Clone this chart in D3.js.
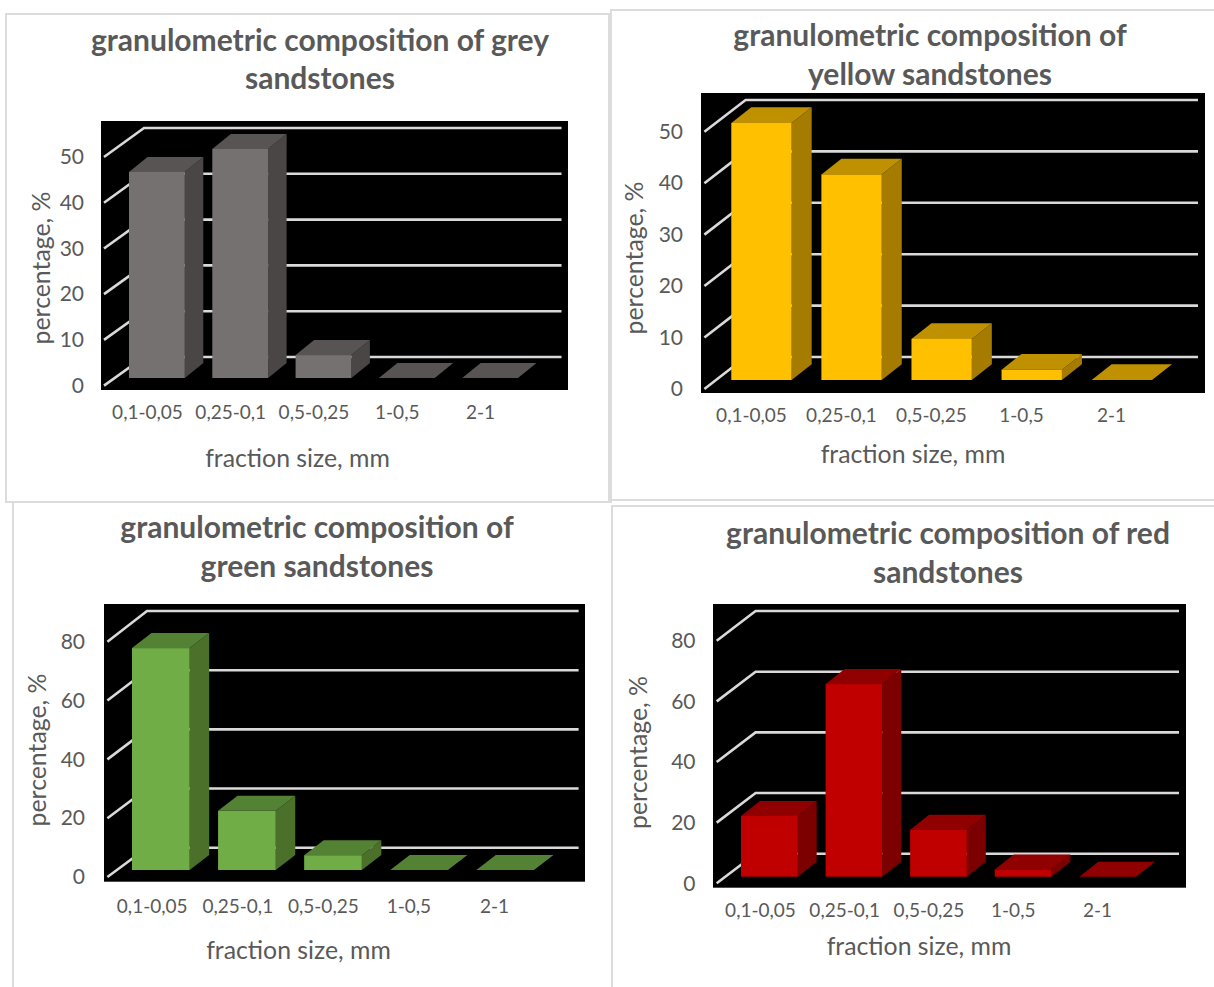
<!DOCTYPE html>
<html>
<head>
<meta charset="utf-8">
<script src="https://cdn.jsdelivr.net/npm/d3@7"></script>
<style>
  html, body { margin: 0; padding: 0; background: #fff; }
  svg { display: block; }
  text { font-family: Lato, sans-serif; fill: #595959; }
  .title { font-size: 30px; font-weight: 700; text-anchor: middle; }
  .axis-title { font-size: 24.8px; text-anchor: middle; }
  .y-axis text { font-size: 21px; }
  .x-axis text { font-size: 19px; }
</style>
</head>
<body>
<div id="chart"></div>
<script>
// values, one list per chart
var categories = ["0,1-0,05", "0,25-0,1", "0,5-0,25", "1-0,5", "2-1"];
var greyValues = [45, 50, 5, 0, 0];
var yellowValues = [50, 40, 8, 2, 0];
var greenValues = [75, 20, 5, 0, 0];
var redValues = [20, 63.5, 15.5, 2.4, 0];
var ticks50 = [0, 10, 20, 30, 40, 50];
var ticks80 = [0, 20, 40, 60, 80];

var yTitle = "percentage, %";
var xTitle = "fraction size, mm";

var svg = d3.select("#chart").append("svg")
    .attr("width", 1214)
    .attr("height", 987);

// panel frames first, they sit under everything
var frames = [
  "M6,14H609V502H6Z",
  "M1214,10H611V500H1214",
  "M13,987V502H612",
  "M612,987V506H1214"
];
svg.selectAll(".frame")
    .data(frames)
  .enter().append("path")
    .attr("class", "frame")
    .attr("d", function(d) { return d; })
    .attr("fill", "none")
    .attr("stroke", "#dcdcdc")
    .attr("stroke-width", 2);

drawPanel({
  title: ["granulometric composition of grey", "sandstones"],
  values: greyValues, ticks: ticks50,
  colors: { front: "#767171", top: "#595454", side: "#4a4646" },
  plot: [101, 121, 568, 390],
  back: [144, 561.5, 357, 128],
  front: [104, 385.6, 157],
  bars: [129, 518, 378], depth: [18.5, 15],
  tickX: 84,
  labels: [147, 480, 412.5],
  titleAt: [320, 40, 78],
  xTitleAt: [297.5, 458],
  yTitleAt: [41, 268]
});

drawPanel({
  title: ["granulometric composition of", "yellow sandstones"],
  values: yellowValues, ticks: ticks50,
  colors: { front: "#ffc000", top: "#bf9000", side: "#a67c00" },
  plot: [701, 93, 1205, 393],
  back: [745.6, 1198, 357, 100],
  front: [704.4, 389, 131.7],
  bars: [731.3, 1152, 380], depth: [20, 15.7],
  tickX: 683,
  labels: [751, 1111, 415.5],
  titleAt: [930, 35, 74],
  xTitleAt: [913, 454],
  yTitleAt: [634, 258]
});

drawPanel({
  title: ["granulometric composition of", "green sandstones"],
  values: greenValues, ticks: ticks80,
  colors: { front: "#70ad47", top: "#548235", side: "#4a7029" },
  plot: [104, 604, 585, 881.7],
  back: [147, 578.6, 847.7, 611],
  front: [107.4, 877, 641.7],
  bars: [132, 534, 870], depth: [19.5, 15],
  tickX: 85,
  labels: [151.7, 494, 906],
  titleAt: [317, 527, 566],
  xTitleAt: [298.5, 950],
  yTitleAt: [37, 750]
});

drawPanel({
  title: ["granulometric composition of red", "sandstones"],
  values: redValues, ticks: ticks80,
  colors: { front: "#c00000", top: "#900000", side: "#7c0000" },
  plot: [713, 604, 1186, 887.7],
  back: [755.6, 1179, 853.7, 611],
  front: [716.7, 883.3, 640.7],
  bars: [741, 1136, 876.7], depth: [19, 15],
  tickX: 695.5,
  labels: [760, 1097, 910.5],
  titleAt: [948, 533, 572.5],
  xTitleAt: [919, 946.5],
  yTitleAt: [638, 752.5]
});

function drawPanel(p) {
  var g = svg.append("g");
  var maxTick = p.ticks[p.ticks.length - 1];

  g.append("rect")
      .attr("x", p.plot[0])
      .attr("y", p.plot[1])
      .attr("width", p.plot[2] - p.plot[0])
      .attr("height", p.plot[3] - p.plot[1])
      .attr("fill", "#000");

  // value scales for the back wall and the front edge of the floor
  var yBack = d3.scaleLinear().domain([0, maxTick]).range([p.back[2], p.back[3]]);
  var yFront = d3.scaleLinear().domain([0, maxTick]).range([p.front[1], p.front[2]]);

  var x = d3.scaleBand()
      .domain(categories)
      .range([p.bars[0], p.bars[1]])
      .paddingInner(0.33);

  g.selectAll(".grid")
      .data(p.ticks)
    .enter().append("path")
      .attr("class", "grid")
      .attr("d", function(d) {
        return "M" + p.front[0] + "," + yFront(d) +
               "L" + p.back[0] + "," + yBack(d) +
               "H" + p.back[1];
      })
      .attr("fill", "none")
      .attr("stroke", "#d9d9d9")
      .attr("stroke-width", 2.6);

  var barHeight = function(d) { return yBack(0) - yBack(d); };
  var floor = p.bars[2], dx = p.depth[0], dy = p.depth[1];

  var bars = g.selectAll(".bar")
      .data(p.values.map(function(d, i) { return [categories[i], d]; }))
    .enter().append("g")
      .attr("class", "bar");

  // side face
  bars.append("path")
      .attr("fill", p.colors.side)
      .attr("d", function(d) {
        var r = x(d[0]) + x.bandwidth(), t = floor - barHeight(d[1]);
        return "M" + r + "," + t + "l" + dx + "," + (-dy) + "V" + (floor - dy) + "L" + r + "," + floor + "Z";
      });

  // top face
  bars.append("path")
      .attr("fill", p.colors.top)
      .attr("d", function(d) {
        var l = x(d[0]), t = floor - barHeight(d[1]);
        return "M" + l + "," + t + "l" + dx + "," + (-dy) + "h" + x.bandwidth() + "l" + (-dx) + "," + dy + "Z";
      });

  // front face
  bars.append("rect")
      .attr("fill", p.colors.front)
      .attr("x", function(d) { return x(d[0]); })
      .attr("width", x.bandwidth())
      .attr("y", function(d) { return floor - barHeight(d[1]); })
      .attr("height", function(d) { return barHeight(d[1]); });

  var yAxis = g.append("g")
      .attr("class", "y-axis")
      .attr("transform", "translate(" + p.tickX + ",0)")
      .call(d3.axisLeft(yFront).tickValues(p.ticks).tickSize(0).tickPadding(0));
  yAxis.select(".domain").remove();

  // the labels do not sit under the bars, so they get their own scale
  var xLabels = d3.scalePoint().domain(categories).range([p.labels[0], p.labels[1]]);
  var xAxis = g.append("g")
      .attr("class", "x-axis")
      .attr("transform", "translate(0," + p.labels[2] + ")")
      .call(d3.axisBottom(xLabels).tickSize(0).tickPadding(0));
  xAxis.select(".domain").remove();
  xAxis.selectAll("text").attr("y", 0).attr("dy", "0.35em");

  g.selectAll(".title")
      .data(p.title)
    .enter().append("text")
      .attr("class", "title")
      .attr("x", p.titleAt[0])
      .attr("y", function(d, i) { return p.titleAt[i + 1]; })
      .attr("dy", "0.35em")
      .text(function(d) { return d; });

  g.append("text")
      .attr("class", "axis-title")
      .attr("x", p.xTitleAt[0])
      .attr("y", p.xTitleAt[1])
      .attr("dy", "0.35em")
      .text(xTitle);

  g.append("text")
      .attr("class", "axis-title")
      .attr("transform", "translate(" + p.yTitleAt[0] + "," + p.yTitleAt[1] + ") rotate(-90)")
      .attr("dy", "0.35em")
      .text(yTitle);
}
</script>
</body>
</html>
